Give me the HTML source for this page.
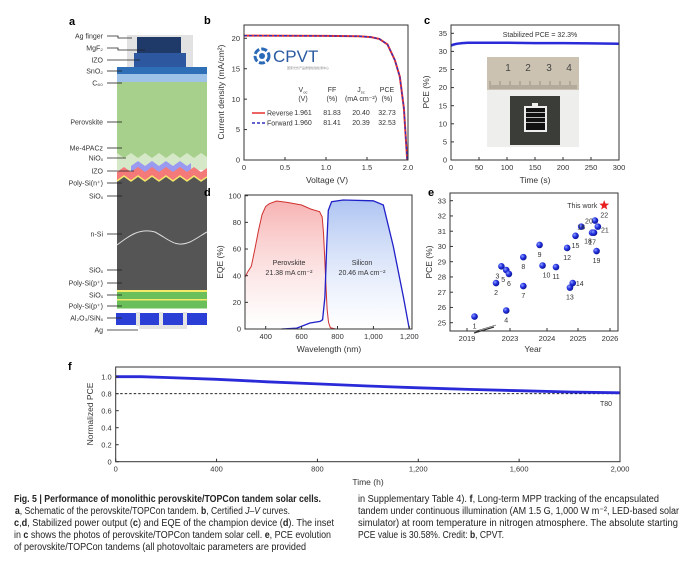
<!DOCTYPE html>
<html><head><meta charset="utf-8">
<style>
html,body{margin:0;padding:0;background:#fff;}
svg{display:block;font-family:"Liberation Sans",sans-serif;}
.tk{font-size:7.5px;fill:#333;}
.at{font-size:8.5px;fill:#333;}
.pl{font-size:11px;font-weight:bold;fill:#000;}
.sl{font-size:7px;fill:#333;}
.cap{font-size:10px;fill:#222;font-family:"Liberation Sans Narrow","Liberation Sans",sans-serif;}
</style></head>
<body>
<svg id="fig" width="686" height="563" viewBox="0 0 686 563">
<defs>
<linearGradient id="gRed" x1="0" y1="0" x2="0" y2="1"><stop offset="0" stop-color="#f7b3b3"/><stop offset="1" stop-color="#fff" stop-opacity="0.6"/></linearGradient>
<linearGradient id="gBlue" x1="0" y1="0" x2="0" y2="1"><stop offset="0" stop-color="#aec4f2"/><stop offset="1" stop-color="#fff" stop-opacity="0.6"/></linearGradient>
<radialGradient id="ball" cx="0.35" cy="0.35" r="0.7"><stop offset="0" stop-color="#8fa0ff"/><stop offset="0.5" stop-color="#2230e0"/><stop offset="1" stop-color="#0b1290"/></radialGradient>
</defs>

<!-- Panel a schematic -->
<g>
<text class="pl" x="69" y="25">a</text>
<rect x="127" y="35" width="66" height="33" fill="#e2e2e2"/>
<rect x="137" y="37" width="44" height="16" fill="#1f3a68"/>
<rect x="134" y="53" width="52" height="15" fill="#2d58a0"/>
<rect x="117" y="67" width="90" height="7" fill="#2f6fb8"/>
<rect x="117" y="74" width="90" height="8" fill="#9fc3e8"/>
<rect x="117" y="82" width="90" height="78" fill="#a8d08d"/>
<path d="M117,160 L117,153 L124,158 L131,153 L138,158 L145,153 L152,158 L159,153 L166,158 L173,153 L180,158 L187,153 L194,158 L201,153 L207,157 L207,170 L117,170Z" fill="#d5e9c8"/>
<path d="M131,170 L131,166 L138,161 L145,166 L152,161 L159,166 L166,161 L173,166 L180,161 L187,166 L191,163 L191,172 L131,172Z" fill="#9a9af0"/>
<path d="M117,190 L117,172 L124,167 L131,172 L138,167 L145,172 L152,167 L159,172 L166,167 L173,172 L180,167 L187,172 L194,167 L201,172 L207,168 L207,190Z" fill="#f47a7a"/>
<path d="M117,290 L117,181 L124,176 L131,181 L138,176 L145,181 L152,176 L159,181 L166,176 L173,181 L180,176 L187,181 L194,176 L201,181 L207,177 L207,290Z" fill="#555"/>
<path d="M117,181 L124,176 L131,181 L138,176 L145,181 L152,176 L159,181 L166,176 L173,181 L180,176 L187,181 L194,176 L201,181 L207,177" fill="none" stroke="#f3ea6a" stroke-width="1.5"/>
<path d="M117,245 C130,235 140,228 155,232 C170,240 175,248 190,242 C198,238 203,234 207,232" fill="none" stroke="#ddd" stroke-width="1"/>
<rect x="117" y="290" width="90" height="2" fill="#f3ea6a"/>
<rect x="117" y="292" width="90" height="7" fill="#6abf5a"/>
<rect x="117" y="299" width="90" height="1.5" fill="#f3ea6a"/>
<rect x="117" y="300.5" width="90" height="8" fill="#6abf5a"/>
<rect x="116" y="313" width="91" height="12" fill="#2b3fd6"/>
<rect x="136" y="312" width="4" height="14" fill="#e4e4e4"/>
<rect x="159" y="312" width="4" height="14" fill="#e4e4e4"/>
<rect x="183" y="312" width="4" height="14" fill="#e4e4e4"/>
<rect x="139" y="325" width="48" height="4" fill="#e4e4e4"/>
</g>
<g id="aLabels"></g>

<g id="pb"></g>
<g id="pc"></g>
<g id="pd"></g>
<g id="pe"></g>
<g id="pf"></g>

<g>
<text class="cap" x="14" y="502" textLength="307" lengthAdjust="spacingAndGlyphs" font-weight="bold">Fig. 5 | Performance of monolithic perovskite/TOPCon tandem solar cells.</text>
<text class="cap" x="15" y="514" textLength="275" lengthAdjust="spacingAndGlyphs"><tspan font-weight="bold">a</tspan>, Schematic of the perovskite/TOPCon tandem. <tspan font-weight="bold">b</tspan>, Certified <tspan font-style="italic">J–V</tspan> curves.</text>
<text class="cap" x="14" y="526" textLength="320" lengthAdjust="spacingAndGlyphs"><tspan font-weight="bold">c</tspan>,<tspan font-weight="bold">d</tspan>, Stabilized power output (<tspan font-weight="bold">c</tspan>) and EQE of the champion device (<tspan font-weight="bold">d</tspan>). The inset</text>
<text class="cap" x="14" y="538" textLength="317" lengthAdjust="spacingAndGlyphs">in <tspan font-weight="bold">c</tspan> shows the photos of perovskite/TOPCon tandem solar cell. <tspan font-weight="bold">e</tspan>, PCE evolution</text>
<text class="cap" x="14" y="550" textLength="292" lengthAdjust="spacingAndGlyphs">of perovskite/TOPCon tandems (all photovoltaic parameters are provided</text>
<text class="cap" x="358" y="502" textLength="301" lengthAdjust="spacingAndGlyphs">in Supplementary Table 4). <tspan font-weight="bold">f</tspan>, Long-term MPP tracking of the encapsulated</text>
<text class="cap" x="358" y="514" textLength="321" lengthAdjust="spacingAndGlyphs">tandem under continuous illumination (AM 1.5 G, 1,000 W m⁻², LED-based solar</text>
<text class="cap" x="358" y="526" textLength="320" lengthAdjust="spacingAndGlyphs">simulator) at room temperature in nitrogen atmosphere. The absolute starting</text>
<text class="cap" x="358" y="538" textLength="146" lengthAdjust="spacingAndGlyphs">PCE value is 30.58%. Credit: <tspan font-weight="bold">b</tspan>, CPVT.</text>
</g>
</svg>

<script>
const schematicLabels = ["Ag finger","MgF₂","IZO","SnO₂","C₆₀","Perovskite","Me-4PACz","NiOₓ","IZO","Poly-Si(n⁺)","SiOₓ","n-Si","SiOₓ","Poly-Si(p⁺)","SiOₓ","Poly-Si(p⁺)","Al₂O₃/SiNₓ","Ag"];
const jvVoltage = [0,0.5,1.0,1.4,1.55,1.65,1.75,1.84,1.9,1.95,1.99];
const jvCurrent = [20.45,20.42,20.4,20.35,20.2,19.9,19.0,16.4,13.7,8.5,0];
const jvTicksX = [0,0.5,1.0,1.5,2.0];
const jvTicksY = [0,5,10,15,20];
const spoTime = [0,5,10,20,30,50,100,150,200,250,300];
const spoPce = [31.6,31.9,32.1,32.3,32.4,32.4,32.4,32.3,32.3,32.2,32.1];
const spoTicksX = [0,50,100,150,200,250,300];
const spoTicksY = [0,5,10,15,20,25,30,35];
const eqeWlPero = [285,300,320,340,360,380,400,420,460,520,600,650,700,715,722,728,735,742,750,760,790];
const eqePero = [39,43,47,60,74,86,92,94,96,95,93,90,88,84,72,55,35,15,5,1,0];
const eqeWlSi = [489,573,647,703,717,730,740,749,767,832,999,1055,1111,1167,1200];
const eqeSi = [0,0.7,4.5,5.7,7,24,62,89,95.5,96.8,96.2,93,62,24,0];
const eqeTicksX = [400,600,800,1000,1200];
const eqeTickLabelsX = ["400","600","800","1,000","1,200"];
const eqeTicksY = [0,20,40,60,80,100];
const evoYear = [2019.7,2021.7,2022.2,2022.65,2022.65,2022.9,2023.36,2023.36,2023.8,2023.88,2024.29,2024.65,2024.74,2024.83,2024.92,2025.1,2025.44,2025.5,2025.58,2025.53,2025.62];
const evoPce = [25.4,27.6,28.7,25.8,28.45,28.2,27.4,29.3,30.1,28.75,28.65,29.9,27.3,27.6,30.7,31.3,30.9,30.9,29.7,31.7,31.3];
const evoIds = ["1","2","3","4","5","6","7","8","9","10","11","12","13","14","15","16","17","18","19","20","21"];
const thisWorkYear = [2025.82];
const thisWorkPce = [32.7];
const evoTicksX = [2019,2023,2024,2025,2026];
const evoTicksY = [25,26,27,28,29,30,31,32,33];
const mppTime = [0,100,200,400,600,800,1000,1200,1400,1600,1800,2000];
const mppPce = [1.0,1.0,0.99,0.97,0.94,0.915,0.89,0.87,0.85,0.835,0.82,0.81];
const mppTicksX = [0,400,800,1200,1600,2000];
const mppTickLabelsX = ["0","400","800","1,200","1,600","2,000"];
const mppTicksY = [0,0.2,0.4,0.6,0.8,1.0];

const NS="http://www.w3.org/2000/svg";
function mk(parent,tag,attrs,text){const e=document.createElementNS(NS,tag);for(const k in attrs)e.setAttribute(k,attrs[k]);if(text!==undefined)e.textContent=text;parent.appendChild(e);return e;}
function lin(d0,d1,r0,r1){return v=>r0+(v-d0)/(d1-d0)*(r1-r0);}
function pathOf(xs,ys,sx,sy){return xs.map((v,i)=>(i?'L':'M')+sx(v).toFixed(1)+','+sy(ys[i]).toFixed(1)).join('');}
function frame(g,x0,y0,x1,y1,sx,sy,tx,ty,txl,tyl,fmtY){
  mk(g,'rect',{x:x0,y:y0,width:x1-x0,height:y1-y0,fill:'none',stroke:'#333','stroke-width':1});
  tx.forEach((v,i)=>{const x=sx(v);mk(g,'line',{x1:x,x2:x,y1:y1,y2:y1-3,stroke:'#333'});
    const t=mk(g,'text',{x:x,y:y1+10,'text-anchor':'middle',class:'tk'},txl?txl[i]:String(v));
    
    });
  ty.forEach((v,i)=>{const y=sy(v);mk(g,'line',{x1:x0,x2:x0+3,y1:y,y2:y,stroke:'#333'});
    const t=mk(g,'text',{x:x0-4,y:y+2.6,'text-anchor':'end',class:'tk'},tyl?tyl[i]:(fmtY?fmtY(v):String(v)));
    
    });
}
function title(g,x,y,txt,rot,name){const t=mk(g,'text',{x:x,y:y,'text-anchor':'middle',class:'at',transform:rot?`rotate(-90 ${x} ${y})`:''},txt);
  
  return t;}

(function(){
  const g=document.getElementById('aLabels');
  const ys=[36,48,60,71,83,122,148,158,171,183,196,234,270,283,295,306,318,330];
  const tx=[132,145,140,122,122,122,122,126,134,122,122,122,122,122,122,122,122,138];
  schematicLabels.forEach((s,i)=>{
    const t=mk(g,'text',{x:103,y:ys[i]+2.5,'text-anchor':'end',class:'sl'},s);
    
    
    mk(g,'path',{d:`M107,${ys[i]} L${Math.min(tx[i],118)},${ys[i]} L${Math.min(tx[i],118)},${ys[i]+ (i<2?2:0)} L${tx[i]},${ys[i]+(i<2?2:0)}`,fill:'none',stroke:'#222','stroke-width':0.8});
  });
})();

(function(){
  const g=document.getElementById('pb');
  const sx=lin(0,2,244,408), sy=lin(0,20,160,38.3);
  mk(g,'text',{x:204,y:24,class:'pl'},'b');
  mk(g,'circle',{cx:262,cy:56,r:7,fill:'none',stroke:'#2a6ab8','stroke-width':3,'stroke-dasharray':'6 2'});
  mk(g,'circle',{cx:262,cy:56,r:3,fill:'#2a6ab8'});
  const lg=mk(g,'text',{x:273,y:62,'font-size':17,fill:'#2a5aa0'},'CPVT');
  
  
  mk(g,'text',{x:287,y:69,'font-size':3,fill:'#888'},'国家光伏产品质量检验检测中心');
  const cols=[303,332,361,387];
  [['V','FF','J','PCE'],['(V)','(%)','(mA cm⁻²)','(%)'],['1.961','81.83','20.40','32.73'],['1.960','81.41','20.39','32.53']].forEach((row,r)=>{
    const y=[92,101,115,125][r];
    row.forEach((s,c)=>{const t=mk(g,'text',{x:cols[c],y:y,'text-anchor':'middle',class:'sl'},s);
      if(r===0&&(c===0||c===2)){mk(t,'tspan',{'font-size':4,dy:1.5},c===0?'oc':'sc');}
      
      });
  });
  mk(g,'line',{x1:252,x2:265,y1:113,y2:113,stroke:'#e53030','stroke-width':1.5});
  mk(g,'line',{x1:252,x2:265,y1:123,y2:123,stroke:'#3030c0','stroke-width':1.5,'stroke-dasharray':'3 2'});
  const l1=mk(g,'text',{x:267,y:115.5,class:'sl'},'Reverse');
  
  
  const l2=mk(g,'text',{x:267,y:125.5,class:'sl'},'Forward');
  
  
  const r=mk(g,'path',{d:pathOf(jvVoltage,jvCurrent,sx,sy),fill:'none',stroke:'#e53030','stroke-width':2});
  
  
  const f=mk(g,'path',{d:pathOf(jvVoltage,jvCurrent,sx,sy),fill:'none',stroke:'#3030c0','stroke-width':1.3,'stroke-dasharray':'3 2'});
  
  
  frame(g,244,25,408,160,sx,sy,jvTicksX,jvTicksY,jvTicksX.map(v=>v===0?'0':v.toFixed(1)),null);
  title(g,327,183,'Voltage (V)',false,'x-axis-title');
  title(g,224,92,'Current density (mA/cm²)',true,'y-axis-title');
})();

(function(){
  const g=document.getElementById('pc');
  const sx=lin(0,300,451,619), sy=lin(0,35,160,33.3);
  mk(g,'text',{x:424,y:24,class:'pl'},'c');
  const ph=mk(g,'g',{});
  
  
  mk(ph,'rect',{x:487,y:57,width:92,height:90,fill:'#eeeeec'});
  mk(ph,'rect',{x:487,y:57,width:92,height:33,fill:'#cbc2b1'});
  for(let i=0;i<44;i++){const x=490+i*2;mk(ph,'line',{x1:x,x2:x,y1:89,y2:i%5===0?81:85,stroke:'#6a6458','stroke-width':0.5});}
  ['1','2','3','4'].forEach((s,i)=>mk(ph,'text',{x:[508,528,549,569][i],y:71,'text-anchor':'middle','font-size':10,fill:'#444'},s));
  mk(ph,'rect',{x:510,y:96,width:50,height:49,fill:'#3a3d38'});
  mk(ph,'rect',{x:524,y:106,width:23,height:26,fill:'#eee'});
  mk(ph,'rect',{x:526,y:108,width:19,height:22,fill:'#111'});
  for(let i=0;i<3;i++)mk(ph,'rect',{x:526,y:112+i*5,width:19,height:1,fill:'#bbb'});
  mk(ph,'rect',{x:532,y:103,width:6,height:5,fill:'#eee'});
  const ln=mk(g,'path',{d:pathOf(spoTime,spoPce,sx,sy),fill:'none',stroke:'#2a2ad8','stroke-width':2.5});
  
  
  const st=mk(g,'text',{x:540,y:37,'text-anchor':'middle',class:'sl'},'Stabilized PCE = 32.3%');
  
  
  frame(g,451,25,619,160,sx,sy,spoTicksX,spoTicksY,null,null);
  title(g,535,183,'Time (s)',false,'x-axis-title');
  title(g,429,92,'PCE (%)',true,'y-axis-title');
})();

(function(){
  const g=document.getElementById('pd');
  const sx=lin(400,1200,265.7,409.3), sy=lin(0,100,329,195.7);
  mk(g,'text',{x:204,y:196,class:'pl'},'d');
  const fp=pathOf(eqeWlPero,eqePero,sx,sy);
  mk(g,'path',{d:fp+`L${sx(eqeWlPero[eqeWlPero.length-1])},329L${sx(eqeWlPero[0])},329Z`,fill:'url(#gRed)'});
  const fs=pathOf(eqeWlSi,eqeSi,sx,sy);
  mk(g,'path',{d:fs+`L${sx(eqeWlSi[eqeWlSi.length-1])},329L${sx(eqeWlSi[0])},329Z`,fill:'url(#gBlue)'});
  const p=mk(g,'path',{d:fp,fill:'none',stroke:'#d03030','stroke-width':1});
  
  
  const s=mk(g,'path',{d:fs,fill:'none',stroke:'#2020c8','stroke-width':1.3});
  
  
  [['Perovskite',289,265],['21.38 mA cm⁻²',289,275],['Silicon',362,265],['20.46 mA cm⁻²',362,275]].forEach(a=>{
    const t=mk(g,'text',{x:a[1],y:a[2],'text-anchor':'middle',class:'sl'},a[0]);
    
    });
  frame(g,245,195,412,329,sx,sy,eqeTicksX,eqeTicksY,eqeTickLabelsX,null);
  title(g,329,352,'Wavelength (nm)',false,'x-axis-title');
  title(g,223,262,'EQE (%)',true,'y-axis-title');
})();

(function(){
  const g=document.getElementById('pe');
  const tp=[467,510,547,578,610];
  const sx=v=>{for(let i=0;i<evoTicksX.length-1;i++){if(v<=evoTicksX[i+1])return tp[i]+(v-evoTicksX[i])/(evoTicksX[i+1]-evoTicksX[i])*(tp[i+1]-tp[i]);}return tp[4];};
  const sy=lin(25,33,322.7,200.7);
  mk(g,'text',{x:428,y:196,class:'pl'},'e');
  frame(g,450,193,618,331,sx,sy,evoTicksX,evoTicksY,null,null);
  mk(g,'line',{x1:474,x2:494,y1:333,y2:327,stroke:'#333','stroke-width':1.2});
  mk(g,'line',{x1:476,x2:496,y1:331,y2:325,stroke:'#333','stroke-width':0.6});
  const off=[[0,12],[0,12],[-4,12],[0,12],[-3,12],[0,12],[0,12],[0,12],[0,12],[4,12],[0,12],[0,12],[0,12],[7,3],[0,12],[0,3],[0,12],[-6,11],[0,12],[-6,3],[7,6]];
  evoYear.forEach((yv,i)=>{
    const cx=sx(yv),cy=sy(evoPce[i]);
    const c=mk(g,'circle',{cx:cx,cy:cy,r:3.3,fill:'url(#ball)'});
    
    
    const t=mk(g,'text',{x:cx+off[i][0],y:cy+off[i][1],'text-anchor':'middle',class:'sl'},evoIds[i]);
    
    
  });
  thisWorkYear.forEach((yv,i)=>{
    const cx=sx(yv),cy=sy(thisWorkPce[i]);
    let d='';for(let k=0;k<10;k++){const r=k%2?2.2:5.2,a=-Math.PI/2+k*Math.PI/5;d+=(k?'L':'M')+(cx+r*Math.cos(a)).toFixed(1)+','+(cy+r*Math.sin(a)).toFixed(1);}
    const st=mk(g,'path',{d:d+'Z',fill:'#e82020'});
    
    
    const t=mk(g,'text',{x:cx,y:cy+12,'text-anchor':'middle',class:'sl'},'22');
    
    
    const tw=mk(g,'text',{x:cx-7,y:cy+2.5,'text-anchor':'end',class:'sl'},'This work');
    
    
  });
  title(g,533,352,'Year',false,'x-axis-title');
  title(g,432,262,'PCE (%)',true,'y-axis-title');
})();

(function(){
  const g=document.getElementById('pf');
  const sx=lin(0,2000,115.7,620), sy=lin(0,1,461.7,376.7);
  mk(g,'text',{x:68,y:370,class:'pl'},'f');
  const dl=mk(g,'line',{x1:115.7,x2:620,y1:sy(0.8),y2:sy(0.8),stroke:'#000','stroke-width':0.9,'stroke-dasharray':'2.5 2'});
  
  
  const ln=mk(g,'path',{d:pathOf(mppTime,mppPce,sx,sy),fill:'none',stroke:'#2a2ad8','stroke-width':2.8});
  
  
  frame(g,115.7,367,620,461.7,sx,sy,mppTicksX,mppTicksY,mppTickLabelsX,null,v=>v===0?'0':v.toFixed(1));
  const t=mk(g,'text',{x:612,y:406,'text-anchor':'end',class:'sl'},'T80');
  
  
  title(g,368,485,'Time (h)',false,'x-axis-title');
  title(g,93,414,'Normalized PCE',true,'y-axis-title');
})();
</script>
</body></html>
